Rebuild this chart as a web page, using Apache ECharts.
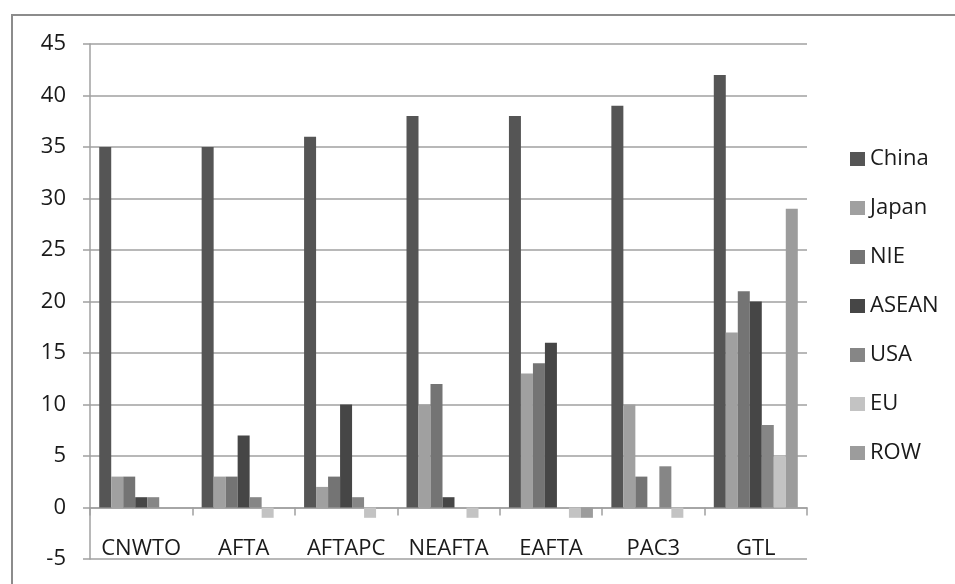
<!DOCTYPE html>
<html>
<head>
<meta charset="utf-8">
<script src="https://cdn.jsdelivr.net/npm/echarts@6/dist/echarts.min.js"></script>
<style>
  html, body { margin: 0; padding: 0; background: #fff; }
  #chart { width: 955px; height: 584px; }
</style>
</head>
<body>
<div id="chart"></div>
<script>
// Scenarios on the category axis
const scenarios = ['CNWTO', 'AFTA', 'AFTAPC', 'NEAFTA', 'EAFTA', 'PAC3', 'GTL'];

// Values per region, one entry per scenario
const china = [35, 35, 36, 38, 38, 39, 42];
const japan = [3, 3, 2, 10, 13, 10, 17];
const nie   = [3, 3, 3, 12, 14, 3, 21];
const asean = [1, 7, 10, 1, 16, 0, 20];
const usa   = [1, 1, 1, 0, 0, 4, 8];
const eu    = [0, -1, -1, -1, -1, -1, 5];
const row   = [0, 0, 0, 0, -1, 0, 29];

// Value axis ticks
const yTicks = { min: -5, max: 45, step: 5 };

const seriesDefs = [
  { name: 'China', data: china, color: '#555555' },
  { name: 'Japan', data: japan, color: '#a0a0a0' },
  { name: 'NIE',   data: nie,   color: '#747474' },
  { name: 'ASEAN', data: asean, color: '#464646' },
  { name: 'USA',   data: usa,   color: '#868686' },
  { name: 'EU',    data: eu,    color: '#c3c3c3' },
  { name: 'ROW',   data: row,   color: '#9c9c9c' }
];

const FONT = '"Open Sans", "Noto Sans", sans-serif';
const lineGrey = '#a0a0a0';

const chart = echarts.init(document.getElementById('chart'), null, { renderer: 'canvas' });

chart.setOption({
  animation: false,
  backgroundColor: '#ffffff',
  textStyle: { fontFamily: FONT },
  graphic: [{
    type: 'rect',
    shape: { x: 12, y: 15, width: 980, height: 620 },
    style: { fill: 'none', stroke: '#8c8c8c', lineWidth: 2 },
    silent: true,
    z: -10
  }],
  grid: {
    left: 90, right: 148, top: 44, bottom: 25,
    containLabel: false,
    outerBoundsMode: 'none'
  },
  legend: {
    orient: 'vertical',
    left: 850,
    top: 148,
    padding: 0,
    itemWidth: 15,
    itemHeight: 14,
    itemGap: 27,
    icon: 'rect',
    textStyle: { fontFamily: FONT, fontSize: 22, lineHeight: 22, color: '#1a1a1a' },
    data: seriesDefs.map(s => s.name)
  },
  xAxis: {
    type: 'category',
    data: scenarios,
    boundaryGap: true,
    axisLine: { onZero: true, lineStyle: { color: lineGrey, width: 1.5 } },
    axisTick: { show: true, length: 8, alignWithLabel: false, lineStyle: { color: lineGrey, width: 1.5 } },
    // category names sit just above the bottom edge of the plot
    axisLabel: { interval: 0, margin: -21, fontFamily: FONT, fontSize: 22, lineHeight: 22, color: '#1a1a1a' },
    splitLine: { show: false }
  },
  yAxis: {
    type: 'value',
    min: yTicks.min,
    max: yTicks.max,
    interval: yTicks.step,
    axisLine: { show: true, lineStyle: { color: lineGrey, width: 1.5 } },
    axisTick: { show: true, length: 7, lineStyle: { color: lineGrey, width: 1.5 } },
    axisLabel: { margin: 24, fontFamily: FONT, fontSize: 22, color: '#1a1a1a' },
    splitLine: { show: true, lineStyle: { color: lineGrey, width: 1.5 } }
  },
  series: seriesDefs.map(s => ({
    name: s.name,
    type: 'bar',
    data: s.data,
    barGap: '0%',
    barCategoryGap: '18%',
    itemStyle: { color: s.color },
    emphasis: { disabled: true }
  }))
});
</script>
</body>
</html>
